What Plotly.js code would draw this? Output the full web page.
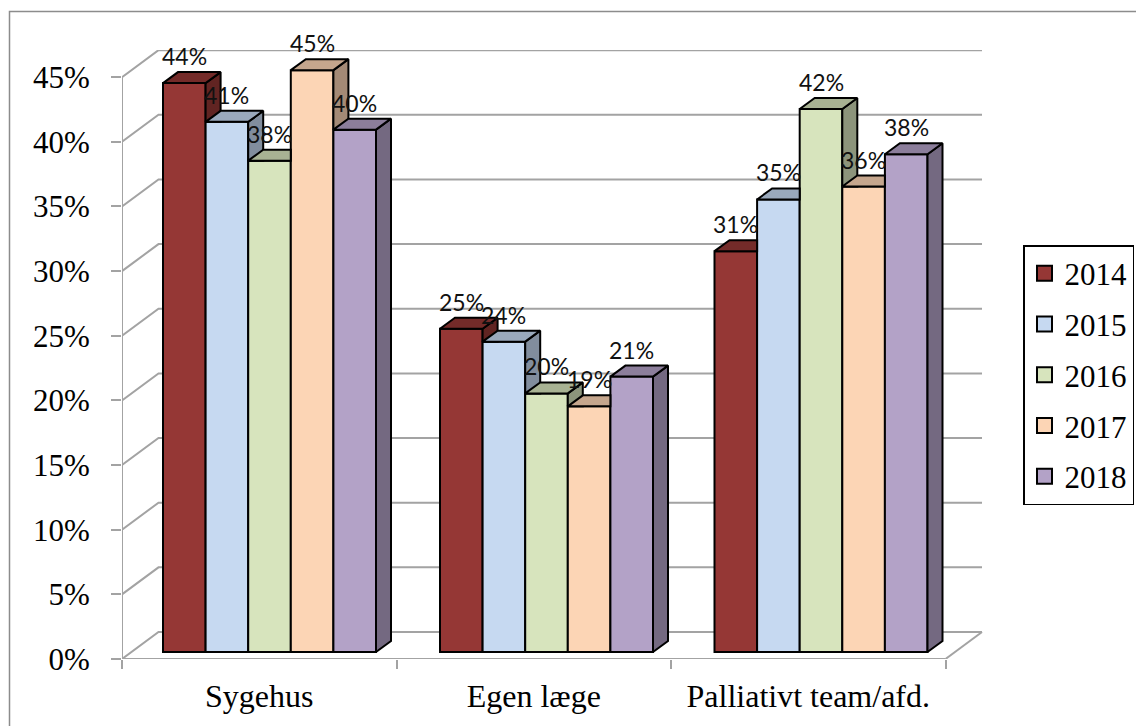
<!DOCTYPE html>
<html><head><meta charset="utf-8">
<script src="https://cdn.plot.ly/plotly-3.0.1.min.js"></script>
<style>html,body{margin:0;padding:0;background:#fff}</style></head>
<body><div id="chart" style="width:1136px;height:726px"></div>
<script>
const categories = ["Sygehus", "Egen læge", "Palliativt team/afd."];
const years = ["2014", "2015", "2016", "2017", "2018"];
const v2014 = [44, 25, 31];
const v2015 = [41, 24, 35];
const v2016 = [38, 20, 42];
const v2017 = [45, 19, 36];
const v2018 = [40.4, 21.3, 38.5];
const labels2014 = ["44%", "25%", "31%"];
const labels2015 = ["41%", "24%", "35%"];
const labels2016 = ["38%", "20%", "42%"];
const labels2017 = ["45%", "19%", "36%"];
const labels2018 = ["40%", "21%", "38%"];
const colors = ["#953735", "#C6D9F1", "#D7E4BD", "#FCD5B5", "#B3A2C7"];
const yTicks = [0, 5, 10, 15, 20, 25, 30, 35, 40, 45];
const yTickText = ["0%", "5%", "10%", "15%", "20%", "25%", "30%", "35%", "40%", "45%"];

const series = [v2014, v2015, v2016, v2017, v2018];
const seriesLabels = [labels2014, labels2015, labels2016, labels2017, labels2018];

// plot geometry
const L = 122, T = 50, R = 983, B = 659;
const pxX = 274.5, pxY = 12.93;
const xMax = (R - L) / pxX, yMax = (B - T) / pxY;
const wallDx = 36.5 / pxX, wallDy = 27 / pxY;
const barW = 42.6 / pxX, barBase = 7 / pxY, barDx = 15 / pxX, barDy = 11 / pxY;
const groupLeft = [41 / pxX, 318 / pxX, 592.5 / pxX];
const GREY = "#a3a3a3", serif = "Liberation Serif, Times New Roman, serif";

function shade(hex, f) {
  const n = parseInt(hex.slice(1), 16);
  return "rgb(" + [(n >> 16) & 255, (n >> 8) & 255, n & 255].map(c => Math.round(c * f)).join(",") + ")";
}

const traces = [], annotations = [];
series.forEach((vals, i) => {
  traces.push({
    type: "bar", name: years[i], x: groupLeft, y: vals, base: barBase,
    width: barW, offset: i * barW,
    marker: { color: colors[i], line: { color: "#000", width: 2 } },
    hoverinfo: "skip", legendgroup: years[i], showlegend: false
  });
});
series.forEach((vals, i) => {
  const tx = [], ty = [], sx = [], sy = [];
  vals.forEach((v, c) => {
    const xl = groupLeft[c] + i * barW, xr = xl + barW, top = v + barBase;
    const next = i < series.length - 1 ? series[i + 1][c] + barBase : null;
    const hidden = next !== null && next >= top;
    // top face, cut at the front of a taller neighbour
    if (hidden) tx.push(xl, xr, xr, xl + barDx, xl, null), ty.push(top, top, top + barDy, top + barDy, top, null);
    else tx.push(xl, xr, xr + barDx, xl + barDx, xl, null), ty.push(top, top, top + barDy, top + barDy, top, null);
    // side face, only the part above a lower neighbour
    if (!hidden) {
      const low = next === null ? barBase : next;
      sx.push(xr, xr, xr + barDx, xr + barDx, xr, null);
      sy.push(low, top, top + barDy, low + (next === null ? barDy : 0), low, null);
    }
    annotations.push({
      x: xl + barW / 2, y: top, yshift: 27, xref: "x", yref: "y", text: seriesLabels[i][c],
      showarrow: false, yanchor: "middle", xanchor: "center",
      font: { family: "Lato, Noto Sans, sans-serif", size: 23, color: "#111" }
    });
  });
  traces.push({ type: "scatter", mode: "lines", x: sx, y: sy, fill: "toself", fillcolor: shade(colors[i], 0.65),
    line: { color: "#000", width: 2 }, hoverinfo: "skip", showlegend: false, cliponaxis: false });
  traces.push({ type: "scatter", mode: "lines", x: tx, y: ty, fill: "toself", fillcolor: shade(colors[i], 0.78),
    line: { color: "#000", width: 2 }, hoverinfo: "skip", showlegend: false, cliponaxis: false });
});
// legend keys, square like the reference
series.forEach((vals, i) => {
  traces.push({ type: "scatter", mode: "markers", name: years[i], x: [null], y: [null], legendgroup: years[i],
    marker: { symbol: "square", size: 15, color: colors[i], line: { color: "#000", width: 2 } }, hoverinfo: "skip" });
});

const wall = { color: GREY, width: 2 };
const shapes = [];
yTicks.forEach(v => {
  shapes.push({ type: "path", layer: "below", xref: "x", yref: "y", line: wall,
    path: `M0,${v} L${wallDx},${v + wallDy} L${3 + wallDx},${v + wallDy}` });
});
shapes.push({ type: "line", layer: "below", xref: "x", yref: "y", x0: 0, x1: 0, y0: 0, y1: 45, line: wall });
shapes.push({ type: "line", layer: "below", xref: "x", yref: "y", x0: 0, x1: 3, y0: 0, y1: 0, line: wall });
shapes.push({ type: "line", layer: "below", xref: "x", yref: "y", x0: 3, x1: 3 + wallDx, y0: 0, y1: wallDy, line: wall });
// outer chart frame (runs off the right and bottom edge of the picture)
const pX = p => (p - L) / (R - L), pY = p => (B - p) / (B - T);
shapes.push({ type: "path", layer: "below", xref: "paper", yref: "paper", line: { color: "#8c8c8c", width: 1.5 },
  path: `M${pX(9.5)},${pY(726)} L${pX(9.5)},${pY(11.5)} L${pX(1136)},${pY(11.5)}` });

const layout = {
  width: 1136, height: 726, autosize: false,
  margin: { l: L, r: 1136 - R, t: T, b: 726 - B, autoexpand: false },
  paper_bgcolor: "#fff", plot_bgcolor: "rgba(0,0,0,0)",
  barmode: "overlay",
  xaxis: {
    range: [0, xMax], showgrid: false, zeroline: false, showline: false,
    tickmode: "array", tickvals: [0.5, 1.5, 2.5], ticktext: categories, ticks: "",
    ticklabelstandoff: 15,
    tickfont: { family: serif, size: 32, color: "#000" },
    minor: { tickmode: "array", tickvals: [0, 1, 2, 3], ticks: "outside", ticklen: 9, tickwidth: 2, tickcolor: GREY, showgrid: false }
  },
  yaxis: {
    range: [0, yMax], showgrid: false, zeroline: false, showline: false,
    tickmode: "array", tickvals: yTicks, ticktext: yTickText,
    ticks: "outside", ticklen: 10, tickwidth: 2, tickcolor: GREY,
    ticklabelstandoff: 15,
    tickfont: { family: serif, size: 31, color: "#000" }
  },
  legend: {
    x: pX(1023), y: pY(245), xanchor: "left", yanchor: "top",
    bgcolor: "#fff", bordercolor: "#000", borderwidth: 1.5,
    traceorder: "grouped", tracegroupgap: 7.5, itemwidth: 30,
    entrywidth: 70, entrywidthmode: "pixels",
    font: { family: serif, size: 31, color: "#000" }
  },
  shapes, annotations, showlegend: true
};
Plotly.newPlot("chart", traces, layout, { displayModeBar: false, responsive: false });
</script></body></html>
